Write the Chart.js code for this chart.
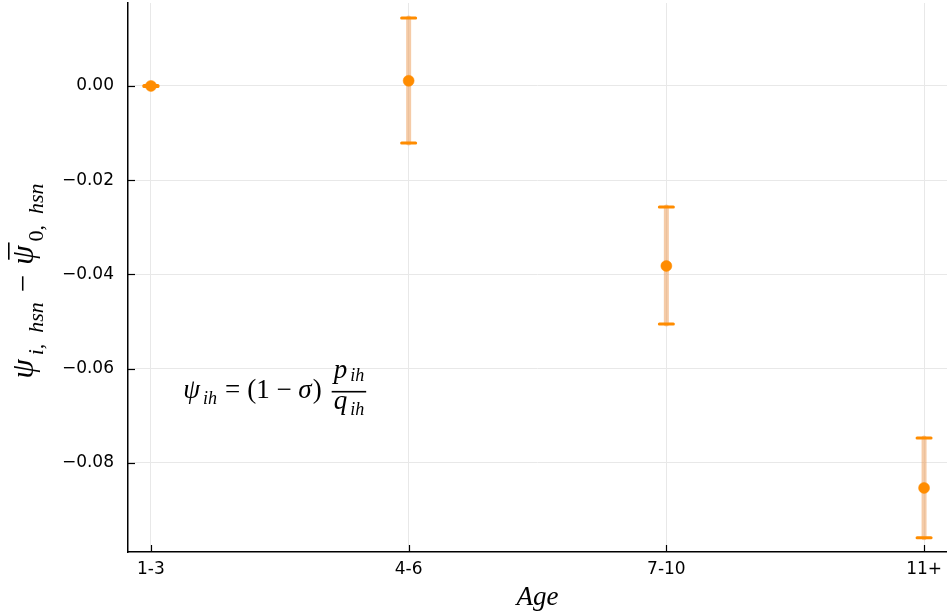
<!DOCTYPE html>
<html><head><meta charset="utf-8">
<script src="https://cdn.jsdelivr.net/npm/chart.js@4"></script>
<style>html,body{margin:0;background:#fff}</style>
</head><body>
<canvas id="c" width="947" height="616"></canvas>
<script>
// data
const ageGroups = ['1-3', '4-6', '7-10', '11+'];
const estimates = [0.0, 0.0011, -0.0382, -0.0853];
const lowerCI = [-0.0001, -0.0121, -0.0505, -0.0959];
const upperCI = [0.0001, 0.0144, -0.0257, -0.0747];
const yTicks = [-0.08, -0.06, -0.04, -0.02, 0.00];
const xTicks = [1, 2, 3, 4];

const orange = '#ff8c00';
const barColor = 'rgba(236,160,95,0.55)';
const serif = '"Liberation Serif", "DejaVu Serif", serif';

// draw a row of text pieces, returns the width
function runs(ctx, x, y, parts, measureOnly) {
  let cx = x;
  parts.forEach(p => {
    ctx.font = p.f;
    if (!measureOnly) ctx.fillText(p.t, cx, y + (p.dy || 0));
    cx += ctx.measureText(p.t).width + (p.gap || 0);
  });
  return cx - x;
}

const errorBars = {
  id: 'errorBars',
  beforeDatasetsDraw(chart) {
    const { ctx, scales: { x, y } } = chart;
    ctx.save();
    estimates.forEach((v, i) => {
      const px = x.getPixelForValue(i + 1);
      const top = y.getPixelForValue(upperCI[i]);
      const bot = y.getPixelForValue(lowerCI[i]);
      ctx.strokeStyle = barColor;
      ctx.lineWidth = 5;
      ctx.beginPath(); ctx.moveTo(px, top); ctx.lineTo(px, bot); ctx.stroke();
      ctx.strokeStyle = orange;
      ctx.lineWidth = 3;
      ctx.lineCap = 'round';
      [top, bot].forEach(yy => {
        ctx.beginPath(); ctx.moveTo(px - 7, yy); ctx.lineTo(px + 7, yy); ctx.stroke();
      });
    });
    ctx.restore();
  }
};

const decorations = {
  id: 'decorations',
  afterDraw(chart) {
    const { ctx, chartArea: a, scales: { x, y } } = chart;
    ctx.save();
    // inner ticks
    ctx.strokeStyle = '#000';
    ctx.lineWidth = 1.2;
    yTicks.forEach(v => {
      const py = Math.round(y.getPixelForValue(v)) + 0.5;
      ctx.beginPath(); ctx.moveTo(a.left, py); ctx.lineTo(a.left + 7, py); ctx.stroke();
    });
    xTicks.forEach(v => {
      const px = Math.round(x.getPixelForValue(v)) + 0.5;
      ctx.beginPath(); ctx.moveTo(px, a.bottom); ctx.lineTo(px, a.bottom - 7); ctx.stroke();
    });

    ctx.fillStyle = '#000';
    ctx.textBaseline = 'alphabetic';
    ctx.textAlign = 'left';

    // x title
    ctx.font = 'italic 27px ' + serif;
    const aw = ctx.measureText('Age').width;
    ctx.fillText('Age', (a.left + a.right) / 2 - aw / 2, 605);

    // y title (rotated)
    const big = 'italic 31px ' + serif, sub = 'italic 22px ' + serif, up = '31px ' + serif, upSub = '22px ' + serif;
    const yParts = [
      { t: 'ψ', f: big, gap: 4 },
      { t: 'i,  hsn', f: sub, dy: 10, gap: 10 },
      { t: '−', f: up, gap: 10 },
      { t: 'ψ', f: big, gap: 4 },
      { t: '0,  ', f: upSub, dy: 10 },
      { t: 'hsn', f: sub, dy: 10 }
    ];
    ctx.save();
    ctx.translate(33, 281);
    ctx.rotate(-Math.PI / 2);
    const w = runs(ctx, 0, 0, yParts, true);
    const sx = -w / 2;
    runs(ctx, sx, 0, yParts);
    // bar over the second psi
    let off = 0;
    for (let k = 0; k < 3; k++) { ctx.font = yParts[k].f; off += ctx.measureText(yParts[k].t).width + (yParts[k].gap || 0); }
    ctx.font = big;
    const psiW = ctx.measureText('ψ').width;
    ctx.fillRect(sx + off + 5, -25, psiW - 2, 1.6);
    ctx.restore();

    // formula annotation
    const fx = x.getPixelForValue(1.125);
    const fy = y.getPixelForValue(-0.0662);
    const F = 'italic 27px ' + serif, Fu = '27px ' + serif, Fs = 'italic 18px ' + serif;
    const left = [
      { t: 'ψ', f: F, gap: 3 },
      { t: 'ih', f: Fs, dy: 6, gap: 8 },
      { t: '=', f: Fu, gap: 7 },
      { t: '(1 − ', f: Fu },
      { t: 'σ', f: F, gap: 1 },
      { t: ')', f: Fu, gap: 10 }
    ];
    const lw = runs(ctx, fx, fy, left);
    const num = [{ t: 'p', f: F, gap: 3 }, { t: 'ih', f: Fs, dy: 3 }];
    const den = [{ t: 'q', f: F, gap: 3 }, { t: 'ih', f: Fs, dy: 6 }];
    const nx = fx + lw;
    const nw = runs(ctx, 0, 0, num, true);
    const dw = runs(ctx, 0, 0, den, true);
    const fw = Math.max(nw, dw) + 4;
    runs(ctx, nx + (fw - nw) / 2, fy - 20, num);
    runs(ctx, nx + (fw - dw) / 2, fy + 11, den);
    ctx.fillRect(nx, fy - 7, fw, 1.6);
    ctx.restore();
  }
};

new Chart(document.getElementById('c'), {
  type: 'scatter',
  data: {
    datasets: [{
      data: estimates.map((v, i) => ({ x: i + 1, y: v })),
      backgroundColor: orange,
      borderColor: orange,
      pointRadius: 5.5,
      pointBorderWidth: 0.5
    }]
  },
  options: {
    responsive: false,
    devicePixelRatio: 1,
    animation: false,
    layout: { autoPadding: false, padding: { top: 3, right: 0, left: 0, bottom: 0 } },
    plugins: { legend: { display: false }, tooltip: { enabled: false } },
    scales: {
      x: {
        type: 'linear',
        min: 0.911,
        max: 4.089,
        afterBuildTicks: s => { s.ticks = xTicks.map(v => ({ value: v })); },
        afterFit: s => { s.height = 64; s.paddingLeft = 0; s.paddingRight = 0; },
        grid: { color: '#e8e8e8', lineWidth: 1, drawTicks: false },
        border: { color: '#000', width: 1.5 },
        ticks: {
          padding: 7,
          color: '#000',
          font: { family: '"DejaVu Sans"', size: 17 },
          callback: v => ageGroups[v - 1],
          maxRotation: 0
        }
      },
      y: {
        min: -0.0989,
        max: 0.0176,
        afterBuildTicks: s => { s.ticks = yTicks.map(v => ({ value: v })); },
        afterFit: s => { s.width = 128; s.paddingTop = 0; s.paddingBottom = 0; },
        grid: { color: '#e8e8e8', lineWidth: 1, drawTicks: false },
        border: { color: '#000', width: 1.5 },
        ticks: {
          padding: 14,
          color: '#000',
          font: { family: '"DejaVu Sans"', size: 17 },
          callback: v => v.toFixed(2).replace('-', '\u2212')
        }
      }
    }
  },
  plugins: [errorBars, decorations]
});
</script>
</body></html>
